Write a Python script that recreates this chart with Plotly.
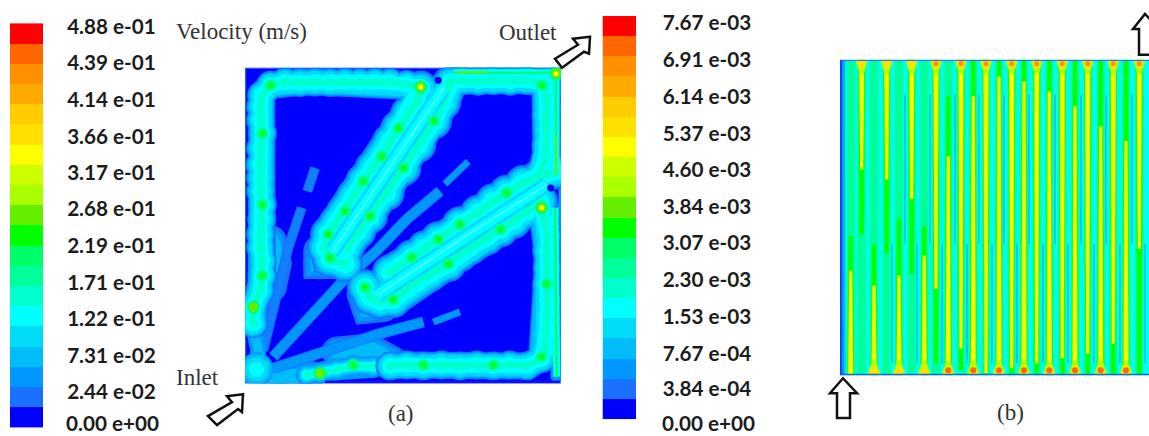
import plotly.graph_objects as go

W, H = 1149, 436

# ---- discrete legend colours, bottom band first
band_colors = ["#0000ff", "#1a70ff", "#0098ff", "#00bcf8", "#00dcf8", "#00ffff", "#00ffcc",
               "#00ff99", "#00ff66", "#00ff00", "#66ee00", "#aaff00", "#ccff00", "#ffff00",
               "#ffe000", "#ffcc00", "#ffaa00", "#ff9000", "#ff6600", "#ff0000"]
band_levels = list(range(20))

velocity_labels = ["4.88 e-01", "4.39 e-01", "4.14 e-01", "3.66 e-01", "3.17 e-01", "2.68 e-01",
                   "2.19 e-01", "1.71 e-01", "1.22 e-01", "7.31 e-02", "2.44 e-02"]
velocity_ticks = [19.83, 18.05, 16.23, 14.40, 12.58, 10.80, 8.98, 7.15, 5.38, 3.55, 1.73]
second_labels = ["7.67 e-03", "6.91 e-03", "6.14 e-03", "5.37 e-03", "4.60 e-03", "3.84 e-03",
                 "3.07 e-03", "2.30 e-03", "1.53 e-03", "7.67 e-04", "3.84 e-04"]
second_ticks = [19.65, 17.83, 16.0, 14.17, 12.35, 10.52, 8.74, 6.91, 5.09, 3.26, 1.48]
zero_label = "0.00 e+00"

# ---- panel (a): flow paths
edge_dark = [(993, 1000), (45, 1000), (45, 47), (993, 47)]
edge_light = [(993, 47), (993, 1000)]
bottom_strip = [(285, 996), (990, 996)]
ring_paths = [
    [(70, 820), (70, 770), (90, 720), (97, 675), (97, 630), (92, 590), (92, 550), (95, 505), (97, 460),
     (92, 420), (92, 380), (90, 340), (92, 290), (97, 245), (92, 205), (92, 165), (95, 130), (122, 100),
     (165, 90), (210, 92), (255, 90), (300, 92), (345, 90), (390, 92), (435, 90), (480, 92), (530, 98), (572, 105)],
    [(660, 88), (700, 86), (745, 88), (790, 86), (840, 88), (890, 86), (945, 95), (950, 145), (948, 190),
     (950, 235), (948, 280), (945, 325), (930, 365)],
    [(935, 470), (945, 510), (952, 555), (950, 600), (952, 650), (950, 700), (952, 750), (950, 800),
     (948, 850), (945, 900), (935, 925), (890, 948), (840, 945), (790, 948), (740, 945), (690, 948),
     (635, 945), (580, 948), (530, 945), (480, 948)],
]
diag_paths = [
    [(295, 550), (320, 515), (345, 480), (372, 435), (400, 390), (428, 350), (455, 315), (480, 270),
     (505, 230), (535, 185), (560, 150), (572, 110)],
    [(295, 550), (285, 590), (300, 625), (345, 640)],
    [(350, 590), (385, 540), (420, 495), (470, 425), (520, 350), (565, 280), (612, 208), (640, 150), (660, 95)],
    [(405, 710), (420, 740), (450, 752), (490, 748)],
    [(480, 665), (545, 620), (585, 592), (625, 565), (690, 520), (745, 485), (790, 450), (830, 425),
     (880, 395), (930, 375), (975, 360)],
    [(490, 748), (550, 700), (600, 670), (655, 640), (690, 610), (720, 590), (770, 560), (812, 535),
     (850, 510), (890, 480), (930, 450)],
]
bottom_tail = [[(430, 950), (370, 948), (320, 958), (270, 970), (230, 975)]]
left_tail = [[(70, 830), (85, 900), (78, 960)]]
core_lines = [
    [(305, 605), (470, 360), (640, 110)],
    [(440, 735), (700, 560), (950, 400)],
]
outer_blobs = [
    [(265, 600), (265, 640), (330, 640)],
    [(395, 730), (410, 775), (460, 770)],
    [(125, 570), (140, 640), (125, 710)],
    [(320, 905), (420, 895), (490, 935)],
    [(235, 975), (130, 985)],
]
light_bars = [
    [(130, 920), (235, 800), (340, 690), (440, 600), (530, 505), (630, 420)],
    [(130, 955), (320, 890), (450, 850), (580, 815)],
]
dark_bars = [
    [(100, 900), (150, 680), (175, 590), (215, 470)],
    [(232, 420), (255, 350)],
]
thin_bars = [
    [(645, 398), (715, 330)],
    [(610, 815), (690, 785)],
]
rim_paths = [
    [(670, 62), (975, 62)],
    [(978, 62), (978, 372)],
    [(975, 470), (980, 980)],
]
rim_bright = [
    [(680, 61), (770, 61)],
    [(978, 250), (978, 368)],
]
spots_x = [122, 97, 97, 97, 505, 455, 400, 345, 295, 300, 420, 520, 612, 405, 490, 545, 625, 690, 830,
           655, 812, 370, 580, 790, 935, 935, 950]
spots_y = [100, 245, 460, 675, 230, 315, 390, 480, 550, 622, 495, 350, 208, 710, 748, 620, 565, 520, 425,
           640, 535, 945, 945, 945, 920, 100, 700]
hot_x = [572, 935, 70, 270, 978]
hot_y = [105, 470, 770, 970, 65]
hole_x = [962, 625]
hole_y = [410, 85]
corner_x = [80]
corner_y = [958]

# ---- panel (b): fins, in pixels from the panel's left and top edge
top_fin_x = [21.7, 46.7, 71.7, 96, 121, 146, 171.7, 196.7, 222.3, 247.7, 273.3, 299.3]
top_fin_green = [175, 195, 215, 305, 312, 317, 317, 317, 317, 317, 317, 317]
top_fin_yellow = [110, 120, 140, 230, 290, 315, 310, 305, 300, 295, 285, 190]
bottom_fin_x = [10.7, 34, 59, 84.3, 108.3, 133.3, 159, 184, 209.3, 235, 260.7, 286]
bottom_fin_green = [140, 132, 158, 150, 280, 317, 317, 317, 317, 317, 317, 317]
bottom_fin_yellow = [105, 90, 100, 120, 220, 280, 300, 295, 285, 270, 250, 235]
gap_upper_x = [65, 90, 115, 139, 164, 189, 215, 241, 266, 292]
gap_lower_x = [52, 77, 102, 127, 152, 177, 203, 228, 254, 280, 305]
gap_upper_span = (35, 185)
gap_lower_span = (185, 305)
base_edges = [0, 2, 4, 6, 8, 309]
base_levels = [1, 2, 3, 4, 5]

# ---- text and arrows
arrows = {
    "inlet": [(243, 394), (227, 396), (232, 402), (208, 416), (217, 425), (238, 409), (242, 412)],
    "outlet": [(590, 35), (573, 37), (578, 43), (555, 57), (562, 66), (584, 50), (589, 52)],
    "b_in": [(843, 378), (857, 393), (850, 393), (850, 418), (837, 418), (837, 393), (830, 393)],
    "b_out": [(1145, 12), (1159, 27), (1152, 27), (1152, 53), (1139, 53), (1139, 27), (1133, 27)],
}
captions = [("Velocity (m/s)", 174, 30), ("Outlet", 497, 31), ("Inlet", 174, 377),
            ("(a)", 386, 413), ("(b)", 995, 412)]

# ---- helpers
stepped = []
for i, c in enumerate(band_colors):
    stepped += [[i / 20, c], [(i + 1) / 20, c]]


def flat(paths):
    xs, ys = [], []
    for p in paths:
        xs += [q[0] for q in p] + [None]
        ys += [q[1] for q in p] + [None]
    return xs, ys


fig = go.Figure()


def path_trace(paths, color, width, axes, marker=None, mode="lines+markers"):
    xs, ys = flat(paths)
    fig.add_trace(go.Scatter(x=xs, y=ys, mode=mode, xaxis=axes[0], yaxis=axes[1], hoverinfo="skip",
                             line=dict(color=color, width=width, shape="linear"),
                             marker=dict(color=color, size=marker or width + 1, line=dict(width=0))))


def poly_trace(polys, color, axes):
    xs, ys = flat(polys)
    fig.add_trace(go.Scatter(x=xs, y=ys, mode="lines", xaxis=axes[0], yaxis=axes[1], hoverinfo="skip",
                             line=dict(color=color, width=0), fill="toself", fillcolor=color))


def dots(xs, ys, color, size, axes, symbol="circle"):
    fig.add_trace(go.Scatter(x=xs, y=ys, mode="markers", xaxis=axes[0], yaxis=axes[1], hoverinfo="skip",
                             marker=dict(color=color, size=size, symbol=symbol, line=dict(width=0))))


def legend_bar(axes):
    fig.add_trace(go.Heatmap(z=[[v] for v in band_levels], x=[0], y=[v + 0.5 for v in band_levels],
                             xaxis=axes[0], yaxis=axes[1], zmin=0, zmax=20, colorscale=stepped,
                             showscale=False, hoverinfo="skip"))


A = ("x2", "y2")
B = ("x4", "y4")
legend_bar(("x", "y"))
legend_bar(("x3", "y3"))

# panel (a)
fig.add_trace(go.Heatmap(z=[[0]], x=[45, 993], y=[47, 1000], xaxis="x2", yaxis="y2", zmin=0, zmax=20,
                         colorscale=stepped, showscale=False, hoverinfo="skip"))
path_trace([edge_dark], "#1a60ff", 2.5, A, mode="lines")
path_trace([edge_light], "#0098ff", 5, A, mode="lines")
path_trace(outer_blobs, band_colors[1], 30, A, 30)
path_trace(outer_blobs, band_colors[2], 24, A, 24)
path_trace(outer_blobs, band_colors[3], 15, A, 15)
path_trace(rim_paths, band_colors[2], 12, A, 12)
path_trace(thin_bars, band_colors[2], 7, A, mode="lines")
path_trace(dark_bars, band_colors[1], 10, A, mode="lines")
path_trace(dark_bars, "#1080ff", 7, A, mode="lines")
path_trace(light_bars, band_colors[1], 11, A, mode="lines")
path_trace(light_bars, band_colors[2], 9, A, mode="lines")
path_trace(left_tail, band_colors[2], 16, A, 16)
path_trace(left_tail, band_colors[3], 9, A, 9)
path_trace(bottom_tail, band_colors[2], 22, A, 22)
for level, w in [(3, 15), (4, 11), (5, 8), (6, 4)]:
    path_trace(bottom_tail, band_colors[level], w, A, w + 2)
for level, ring_w, diag_w in [(1, 27, 34), (2, 25, 31), (3, 23, 28), (4, 20, 24), (5, 14, 17), (6, 6, 7)]:
    path_trace(diag_paths, band_colors[level], diag_w, A, diag_w + 2)
    path_trace(ring_paths, band_colors[level], ring_w, A, ring_w + 2)
path_trace(core_lines, band_colors[4], 16, A, mode="lines")
path_trace(core_lines, band_colors[5], 10, A, mode="lines")
path_trace(core_lines, "#60ffff", 1.5, A, mode="lines")
path_trace(rim_paths, band_colors[5], 7, A, mode="lines")
path_trace(rim_paths, band_colors[8], 2.5, A, mode="lines")
path_trace(rim_bright, band_colors[10], 2, A, mode="lines")
path_trace([bottom_strip], "#1010ff", 3, A, mode="lines")
for level, size in [(2, 34), (3, 30), (4, 24), (5, 15)]:
    dots(corner_x, corner_y, band_colors[level], size, A)
dots(hole_x, hole_y, band_colors[0], 7, A)
dots(spots_x, spots_y, band_colors[7], 12, A)
dots(spots_x, spots_y, band_colors[8], 8, A)
dots(spots_x, spots_y, band_colors[9], 4, A)
dots(hot_x, hot_y, band_colors[8], 13, A)
dots(hot_x, hot_y, band_colors[10], 9, A)
dots(hot_x[:2] + hot_x[4:], hot_y[:2] + hot_y[4:], band_colors[13], 5, A)

# panel (b)
fig.add_trace(go.Heatmap(z=[base_levels], x=base_edges, y=[0, 317], xaxis="x4", yaxis="y4", zmin=0, zmax=20,
                         colorscale=stepped, showscale=False, hoverinfo="skip"))


def top_fin(x, length, half):
    return [(x - half, 0), (x + half, 0), (x + half * 0.6, length), (x - half * 0.6, length)]


def bottom_fin(x, length, half):
    return [(x - half, 317), (x + half, 317), (x + half * 0.6, 317 - length), (x - half * 0.6, 317 - length)]


def fin_layer(top_len, bot_len, half, level):
    polys = [top_fin(x, v, half) for x, v in zip(top_fin_x, top_len)]
    polys += [bottom_fin(x, v, half) for x, v in zip(bottom_fin_x, bot_len)]
    poly_trace(polys, band_colors[level], B)


whole_top = [[(x, 0), (x, 317)] for x in top_fin_x]
whole_bottom = [[(x, 0), (x, 317)] for x in bottom_fin_x]
path_trace(whole_top + whole_bottom, band_colors[6], 10.5, B, mode="lines")
path_trace(whole_top + whole_bottom, band_colors[7], 7.5, B, mode="lines")
gaps = [[(x, gap_upper_span[0]), (x, gap_upper_span[1])] for x in gap_upper_x]
gaps += [[(x, gap_lower_span[0]), (x, gap_lower_span[1])] for x in gap_lower_x]
path_trace(gaps, band_colors[4], 2, B, mode="lines")
path_trace(gaps, band_colors[3], 1, B, mode="lines")
fin_layer(top_fin_green, bottom_fin_green, 3.8, 8)
fin_layer(top_fin_green, bottom_fin_green, 3.2, 9)
fin_layer(top_fin_yellow, bottom_fin_yellow, 3.0, 10)
fin_layer(top_fin_yellow, bottom_fin_yellow, 2.5, 12)
fin_layer(top_fin_yellow, bottom_fin_yellow, 1.7, 13)

top_flare_big = [[(x - 6.5, 0), (x + 6.5, 0), (x + 2, 14), (x - 2, 14)] for x in top_fin_x]
top_flare_mid = [[(x - 4.5, 0), (x + 4.5, 0), (x + 1.5, 10), (x - 1.5, 10)] for x in top_fin_x]
bottom_flare_big = [[(x - 7, 317), (x + 7, 317), (x + 2, 303), (x - 2, 303)] for x in bottom_fin_x[1:]]
bottom_flare_mid = [[(x - 5, 317), (x + 5, 317), (x + 1.5, 307), (x - 1.5, 307)] for x in bottom_fin_x[1:]]
poly_trace(top_flare_big + bottom_flare_big, band_colors[11], B)
poly_trace(top_flare_mid + bottom_flare_mid, band_colors[14], B)
dots(top_fin_x[3:], [4] * 9, band_colors[17], 5, B)
dots(bottom_fin_x[4:], [312] * 8, band_colors[18], 6, B)
path_trace([[(0, 0.5), (309, 0.5)]], "#2a70ff", 1.5, B, mode="lines")
path_trace([[(0, 316.5), (309, 316.5)]], "#1a60ff", 2, B, mode="lines")
path_trace([[(0.5, 0), (0.5, 317)]], "#1040ff", 2.5, B, mode="lines")


def dom_x(a, b):
    return [a / W, b / W]


def dom_y(top, bottom):
    return [1 - bottom / H, 1 - top / H]


hidden = dict(visible=False, fixedrange=True)
tick_font = dict(family="Lato, Carlito, 'Open Sans', sans-serif", size=20.7, color="#1c1c1c", weight="bold")


def legend_axis(ticks, labels, rng, dom, anchor, ticklen):
    return dict(domain=dom, range=rng, side="right", anchor=anchor, tickmode="array", tickvals=ticks,
                ticktext=labels, ticks="outside", ticklen=ticklen, tickcolor="rgba(0,0,0,0)", showgrid=False,
                zeroline=False, showline=False, tickfont=tick_font, fixedrange=True)


fig.update_layout(
    width=W, height=H, margin=dict(l=0, r=0, t=0, b=0), showlegend=False,
    paper_bgcolor="white", plot_bgcolor="white",
    xaxis=dict(hidden, domain=dom_x(10, 43), range=[-0.5, 0.5]),
    yaxis=legend_axis(velocity_ticks, velocity_labels, [-0.444, 20.37], dom_y(14, 436), "x", 19),
    xaxis2=dict(hidden, domain=dom_x(245, 561), range=[45, 993]),
    yaxis2=dict(hidden, domain=dom_y(66, 383), range=[1000, 47]),
    xaxis3=dict(hidden, domain=dom_x(602.5, 636), range=[-0.5, 0.5]),
    yaxis3=legend_axis(second_ticks, second_labels, [-0.84, 20.4], dom_y(6, 436), "x3", 21.5),
    xaxis4=dict(hidden, domain=dom_x(840, 1149), range=[0, 309]),
    yaxis4=dict(hidden, domain=dom_y(58, 375), range=[317, 0]),
)

for poly in arrows.values():
    d = "M " + " L ".join(f"{x / W:.5f},{1 - y / H:.5f}" for x, y in poly) + " Z"
    fig.add_shape(type="path", path=d, xref="paper", yref="paper", fillcolor="white",
                  line=dict(color="#111111", width=2.5))
for text, x, y in captions:
    fig.add_annotation(text=text, x=x / W, y=1 - y / H, xref="paper", yref="paper", xanchor="left",
                       yanchor="middle", showarrow=False,
                       font=dict(family="Liberation Serif, serif", size=23, color="#333333"))
for x in [65, 661]:
    fig.add_annotation(text=zero_label, x=x / W, y=0, xref="paper", yref="paper", xanchor="left",
                       yanchor="bottom", showarrow=False, font=tick_font, borderpad=0)

fig.write_html("out.html", config={"displayModeBar": False},
               post_script="document.body.style.margin='0';document.body.style.overflow='hidden';")
